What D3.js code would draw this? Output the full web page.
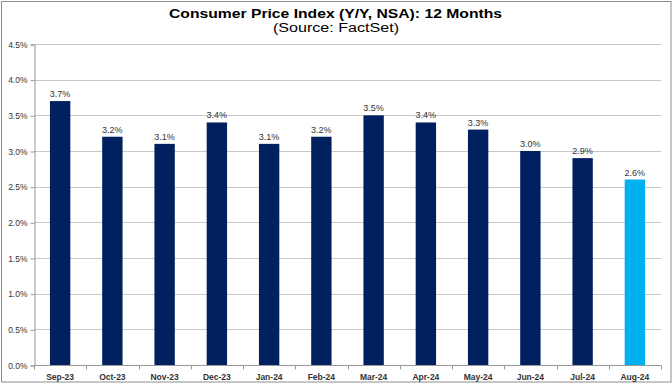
<!DOCTYPE html>
<html>
<head>
<meta charset="utf-8">
<script src="https://cdn.jsdelivr.net/npm/d3@7"></script>
<style>
  body { margin: 0; background: #fff; }
  svg { display: block; font-family: "Liberation Sans", Arial, sans-serif; }
</style>
</head>
<body>
<div id="chart"></div>
<script>
// data
var months = ["Sep-23", "Oct-23", "Nov-23", "Dec-23", "Jan-24", "Feb-24",
              "Mar-24", "Apr-24", "May-24", "Jun-24", "Jul-24", "Aug-24"];
var cpi = [3.7, 3.2, 3.1, 3.4, 3.1, 3.2, 3.5, 3.4, 3.3, 3.0, 2.9, 2.6];
var yTicks = [0, 0.5, 1, 1.5, 2, 2.5, 3, 3.5, 4, 4.5];

var W = 672, H = 384;
var margin = {top: 44, right: 11, bottom: 19, left: 34};

var svg = d3.select("#chart").append("svg")
    .attr("width", W).attr("height", H);

// outer frame
svg.append("rect")
    .attr("x", 1.5).attr("y", 1.5)
    .attr("width", W - 2.5).attr("height", H - 3.5)
    .attr("fill", "#fff").attr("stroke", "#8c8c8c").attr("stroke-width", 1);

var x = d3.scaleBand().domain(months)
    .range([margin.left, W - margin.right])
    .paddingInner(0.61).paddingOuter(0.305);
var y = d3.scaleLinear().domain([0, 4.5])
    .range([H - margin.bottom, margin.top]);

// gridlines
svg.append("g").selectAll("line").data(yTicks.slice(1)).enter().append("line")
    .attr("x1", margin.left).attr("x2", W - margin.right)
    .attr("y1", function(d) { return Math.round(y(d)) + 0.5; })
    .attr("y2", function(d) { return Math.round(y(d)) + 0.5; })
    .attr("stroke", "#c8c8c8");

// bars
svg.append("g").selectAll("rect").data(cpi).enter().append("rect")
    .attr("x", function(d, i) { return x(months[i]); })
    .attr("width", x.bandwidth())
    .attr("y", function(d) { return y(d); })
    .attr("height", function(d) { return y(0) - y(d); })
    .attr("fill", function(d, i) { return i == cpi.length - 1 ? "#00b0f0" : "#002060"; });

// value labels
svg.append("g").selectAll("text").data(cpi).enter().append("text")
    .attr("x", function(d, i) { return x(months[i]) + x.bandwidth() / 2; })
    .attr("y", function(d) { return y(d) - 4; })
    .attr("text-anchor", "middle")
    .attr("font-size", "9px").attr("fill", "#333")
    .text(function(d) { return d.toFixed(1) + "%"; });

// y axis
var yAxis = d3.axisLeft(y).tickValues(yTicks).tickSize(4)
    .tickFormat(function(d) { return d.toFixed(1) + "%"; });
var gy = svg.append("g").attr("transform", "translate(" + (margin.left + 0.5) + ",0.5)").call(yAxis);
gy.select(".domain").attr("stroke", "#999");
gy.selectAll(".tick line").attr("stroke", "#999");
gy.selectAll(".tick text").attr("font-size", "8.5px").attr("fill", "#333")
    .attr("font-family", "Liberation Sans, Arial, sans-serif");

// x axis
var gx = svg.append("g").attr("transform", "translate(0," + (y(0) + 0.5) + ")");
gx.append("line").attr("x1", margin.left).attr("x2", W - margin.right)
    .attr("stroke", "#999");
var step = x.step();
var bounds = d3.range(months.length + 1).map(function(i) {
    return margin.left + i * step;
});
gx.selectAll("line.tk").data(bounds).enter().append("line")
    .attr("class", "tk")
    .attr("x1", function(d) { return Math.round(d) + 0.5; })
    .attr("x2", function(d) { return Math.round(d) + 0.5; })
    .attr("y1", 0).attr("y2", 4).attr("stroke", "#999");
gx.selectAll("text").data(months).enter().append("text")
    .attr("x", function(d) { return x(d) + x.bandwidth() / 2; })
    .attr("y", 14)
    .attr("text-anchor", "middle")
    .attr("font-size", "8.5px").attr("font-weight", "bold").attr("fill", "#333")
    .text(function(d) { return d; });

// titles (the source image is stretched sideways, so fit the text width)
svg.append("text").attr("x", 169).attr("y", 18)
    .attr("font-size", "13px").attr("font-weight", "bold")
    .attr("textLength", 333).attr("lengthAdjust", "spacingAndGlyphs")
    .text("Consumer Price Index (Y/Y, NSA): 12 Months");
svg.append("text").attr("x", 273).attr("y", 32)
    .attr("font-size", "12.5px")
    .attr("textLength", 126).attr("lengthAdjust", "spacingAndGlyphs")
    .text("(Source: FactSet)");
</script>
</body>
</html>
